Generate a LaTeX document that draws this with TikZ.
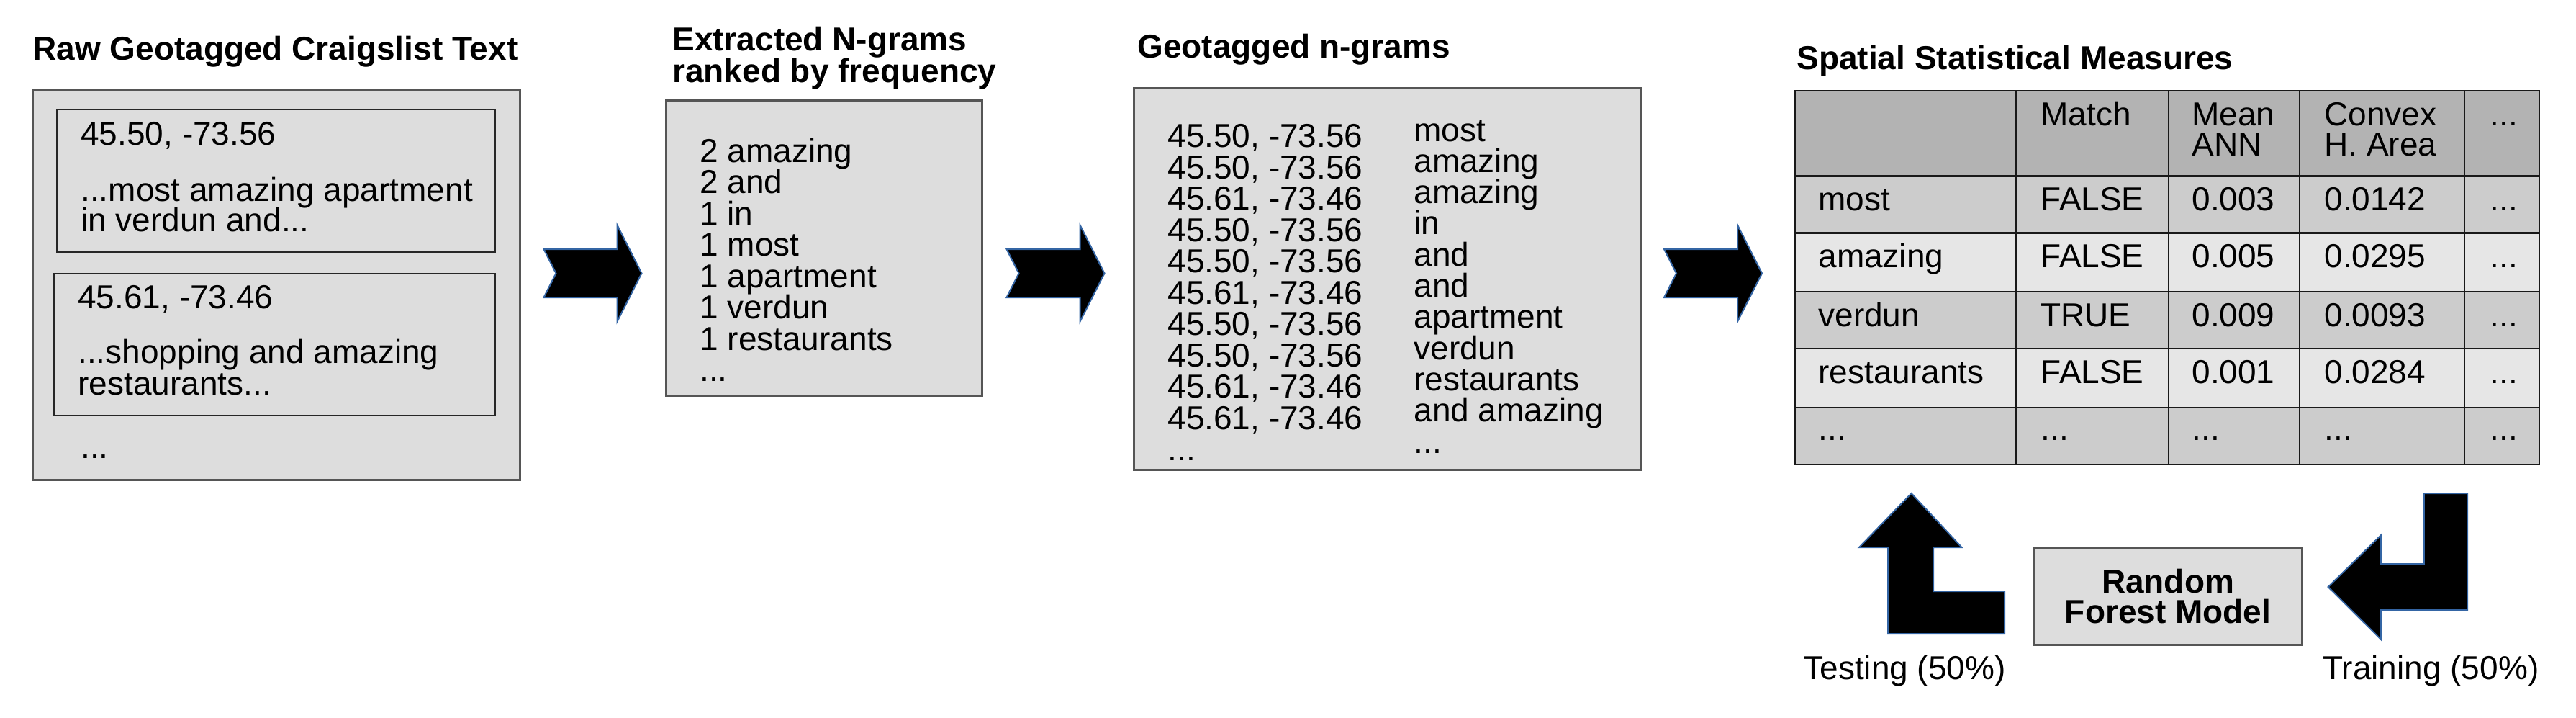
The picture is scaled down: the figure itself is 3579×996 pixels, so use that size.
\documentclass[tikz,border=0pt]{standalone}
\usepackage{fontspec}
\setmainfont{Liberation Sans}
\definecolor{boxfill}{HTML}{DDDDDD}
\definecolor{boxline}{HTML}{555555}
\definecolor{hdrfill}{HTML}{B3B3B3}
\definecolor{rowdark}{HTML}{CCCCCC}
\definecolor{rowlight}{HTML}{E6E6E6}
\definecolor{arrowline}{HTML}{3465A4}
\newcommand{\etcdots}{...}
\begin{document}
\begin{tikzpicture}[x=0.5pt,y=-0.5pt,
  txt/.style={inner sep=0pt, anchor=base west, font=\fontsize{23}{21}\selectfont},
  ctxt/.style={inner sep=0pt, anchor=base, font=\fontsize{23}{21}\selectfont},
  ttl/.style={inner sep=0pt, anchor=base west, font=\fontsize{23}{21}\selectfont\bfseries},
  gbox/.style={fill=boxfill, draw=boxline, line width=1.5pt},
  ibox/.style={draw=black!85, line width=1pt},
  blockarrow/.style={fill=black, draw=arrowline, line width=1pt, line join=miter},
  tline/.style={draw=black!90, line width=1.4pt}]
\useasboundingbox (0,0) rectangle (3579,996);

% ---------- titles ----------
\node[ttl] (t1) at (45,83) {Raw Geotagged Craigslist Text};
\node[ttl] (t2a) at (934,70.5) {Extracted N-grams};
\node[ttl] (t2b) at (934,114) {ranked by frequency};
\node[ttl] (t3) at (1580,80) {Geotagged n-grams};
\node[ttl] (t4) at (2496,96) {Spatial Statistical Measures};

% ---------- box 1 ----------
\draw[gbox] (45,124) rectangle (722,666);
\draw[ibox] (79,152) rectangle (688,350);
\draw[ibox] (75,380) rectangle (688,577);
\node[txt] (b1a) at (112,201) {45.50, -73.56};
\node[txt] (b1b) at (112,279) {...most amazing apartment};
\node[txt] (b1c) at (112,321) {in verdun and...};
\node[txt] (b1d) at (108,428) {45.61, -73.46};
\node[txt] (b1e) at (108,504) {...shopping and amazing};
\node[txt] (b1f) at (108,548) {restaurants...};
\node[txt] (b1g) at (112,636) {...};

% ---------- box 2 ----------
\draw[gbox] (925.5,139) rectangle (1364,549);
\foreach \w [count=\i from 0] in {2 amazing,2 and,1 in,1 most,1 apartment,1 verdun,1 restaurants,\etcdots}
  \node[txt] (b2-\i) at (972,225+43.5*\i) {\w};

% ---------- box 3 ----------
\draw[gbox] (1575,122) rectangle (2279,652);
\foreach \c [count=\i from 0] in {{45.50, -73.56},{45.50, -73.56},{45.61, -73.46},{45.50, -73.56},{45.50, -73.56},{45.61, -73.46},{45.50, -73.56},{45.50, -73.56},{45.61, -73.46},{45.61, -73.46},\etcdots}
  \node[txt] (b3c-\i) at (1622,204.5+43.5*\i) {\c};
\foreach \w [count=\i from 0] in {most,amazing,amazing,in,and,and,apartment,verdun,restaurants,and amazing,\etcdots}
  \node[txt] (b3w-\i) at (1964,196+43.3*\i) {\w};

% ---------- chevron arrows ----------
\foreach \x [count=\i] in {755.5,1398.5,2312}
  \draw[blockarrow] (\x,346) -- (\x+102,346) -- (\x+102,312.5) -- (\x+136,379.5)
     -- (\x+102,446.5) -- (\x+102,413) -- (\x,413) -- (\x+17,379.5) -- cycle;

% ---------- table ----------
\fill[hdrfill]  (2494,126) rectangle (3528,244.6);
\fill[rowdark]  (2494,244.6) rectangle (3528,323.7);
\fill[rowlight] (2494,323.7) rectangle (3528,405);
\fill[rowdark]  (2494,405) rectangle (3528,484);
\fill[rowlight] (2494,484) rectangle (3528,566);
\fill[rowdark]  (2494,566) rectangle (3528,645);
\foreach \y in {244.6,323.7,405,484,566}
  \draw[tline] (2494,\y) -- (3528,\y);
\foreach \x in {2801,3013,3195,3424}
  \draw[tline] (\x,126) -- (\x,645);
\draw[tline] (2494,126) rectangle (3528,645);

\node[txt] (hm) at (2835,174) {Match};
\node[txt] (hn1) at (3045,174) {Mean};
\node[txt] (hn2) at (3045,216.5) {ANN};
\node[txt] (hc1) at (3229,174) {Convex};
\node[txt] (hc2) at (3229,216.5) {H. Area};
\node[txt] (hd) at (3459,174) {...};

\foreach \a/\b/\c/\d/\e/\yy [count=\i] in {
  most/FALSE/0.003/0.0142/\etcdots/292,
  amazing/FALSE/0.005/0.0295/\etcdots/371,
  verdun/TRUE/0.009/0.0093/\etcdots/453,
  restaurants/FALSE/0.001/0.0284/\etcdots/532,
  \etcdots/\etcdots/\etcdots/\etcdots/\etcdots/611.5}{
  \node[txt] (r\i a) at (2526,\yy) {\a};
  \node[txt] (r\i b) at (2835,\yy) {\b};
  \node[txt] (r\i c) at (3045,\yy) {\c};
  \node[txt] (r\i d) at (3229,\yy) {\d};
  \node[txt] (r\i e) at (3459,\yy) {\e};
}

% ---------- random forest ----------
\draw[gbox] (2825,760) rectangle (3198.5,895);
\node[ctxt, font=\fontsize{23}{21}\selectfont\bfseries] (rf1) at (3012,823) {Random};
\node[ctxt, font=\fontsize{23}{21}\selectfont\bfseries] (rf2) at (3012,865) {Forest Model};

% testing arrow (up, L-shaped)
\draw[blockarrow] (2623,880) -- (2785,880) -- (2785,821) -- (2686,821) -- (2686,760)
  -- (2725.5,760) -- (2655.6,685) -- (2583,760) -- (2623,760) -- cycle;
% training arrow (down then left)
\draw[blockarrow] (3367.7,685) -- (3428,685) -- (3428,847) -- (3308,847) -- (3308,888)
  -- (3234.6,815) -- (3308,743) -- (3308,783) -- (3367.7,783) -- cycle;

\node[txt] (lt) at (2505,943) {Testing (50\%)};
\node[txt] (lr) at (3227,943) {Training (50\%)};
\end{tikzpicture}
\end{document}
